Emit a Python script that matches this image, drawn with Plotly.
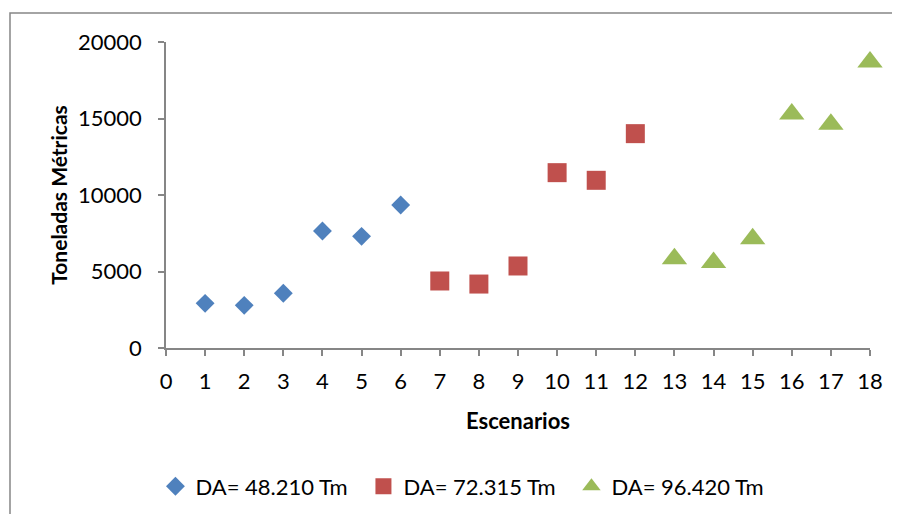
import plotly.graph_objects as go

# Data
esc_a = [1, 2, 3, 4, 5, 6]
val_a = [2920, 2790, 3575, 7650, 7300, 9350]
esc_b = [7, 8, 9, 10, 11, 12]
val_b = [4380, 4180, 5360, 11460, 10960, 14010]
esc_c = [13, 14, 15, 16, 17, 18]
val_c = [5840, 5590, 7140, 15290, 14620, 18690]
names = ["DA= 48.210 Tm", "DA= 72.315 Tm", "DA= 96.420 Tm"]
colors = ["#4F81BD", "#C0504D", "#9BBB59"]

FONT = "Lato"

fig = go.Figure()
fig.add_trace(go.Scatter(x=esc_a, y=val_a, mode="markers", name=names[0], cliponaxis=False,
                         marker=dict(symbol="diamond", size=14.5, color=colors[0])))
fig.add_trace(go.Scatter(x=esc_b, y=val_b, mode="markers", name=names[1], cliponaxis=False,
                         marker=dict(symbol="square", size=19, color=colors[1])))
fig.add_trace(go.Scatter(x=esc_c, y=val_c, mode="markers", name=names[2], cliponaxis=False,
                         marker=dict(symbol="triangle-up", size=22, color=colors[2])))

axis_common = dict(showgrid=False, zeroline=False, showline=True, linecolor="#868686",
                   linewidth=1.5, ticks="outside", ticklen=6, tickcolor="#868686",
                   tickwidth=1.5, tickfont=dict(family=FONT, size=22, color="black"),
                   tickformat="d")

fig.update_layout(
    width=900, height=514,
    margin=dict(l=158, r=38, t=34, b=174),
    paper_bgcolor="white", plot_bgcolor="white",
    font=dict(family=FONT, color="black"),
    xaxis=dict(range=[0, 18], tickmode="linear", tick0=0, dtick=1,
               title=dict(text="<b>Escenarios</b>", font=dict(family=FONT, size=22), standoff=20),
               ticklabelstandoff=7, **axis_common),
    yaxis=dict(range=[0, 20000], tickmode="linear", tick0=0, dtick=5000,
               title=dict(text="<b>Toneladas Métricas</b>", font=dict(family=FONT, size=21), standoff=5),
               ticklabelstandoff=12, **axis_common),
    legend=dict(orientation="h", x=-0.015, xanchor="left", y=-0.384, yanchor="top",
                font=dict(family=FONT, size=22, color="black"),
                entrywidth=163, entrywidthmode="pixels", itemsizing="trace"),
    showlegend=True,
    shapes=[dict(type="path", xref="paper", yref="paper",
                 path="M -0.2216,-0.7 L -0.2216,1.0948 L 1.2,1.0948",
                 line=dict(color="#868686", width=1.5), layer="below")],
)

fig.write_html("out.html")
